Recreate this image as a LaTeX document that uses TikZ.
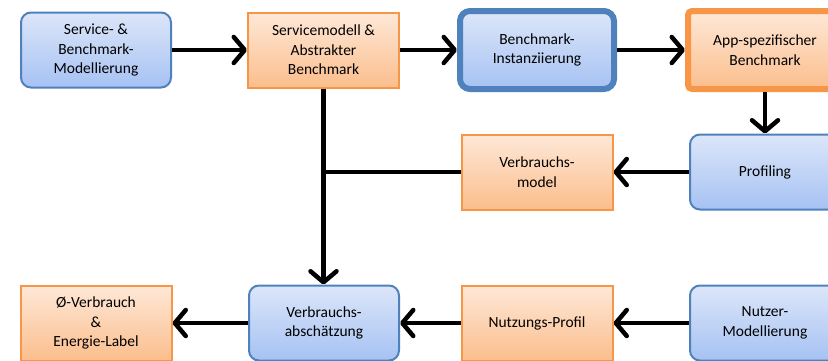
\documentclass[tikz,border=0pt]{standalone}
\usepackage{fontspec}
\setmainfont{Carlito}
\usetikzlibrary{positioning}
\usetikzlibrary{arrows.meta}
\definecolor{blueline}{HTML}{4F81BD}
\definecolor{bluetop}{HTML}{DCE6F9}
\definecolor{bluebot}{HTML}{A6C2F3}
\definecolor{orangeline}{HTML}{F79646}
\definecolor{orangetop}{HTML}{FEE8D8}
\definecolor{orangebot}{HTML}{FBBE8C}

\begin{document}
\begin{tikzpicture}[x=1pt, y=-1pt,
bluenode/.style={rectangle, rounded corners=10pt, draw=blueline, line width=2pt, top color=bluetop, bottom color=bluebot, minimum width=150pt, minimum height=75pt, align=center, font=\fontsize{15.5}{19.5}\selectfont},
orangenode/.style={rectangle, draw=orangeline, line width=2pt, top color=orangetop, bottom color=orangebot, minimum width=151pt, minimum height=75pt, align=center, font=\fontsize{15.5}{19.5}\selectfont},
boldnode/.style={line width=6pt, minimum width=154pt, minimum height=78pt},
flow/.style={line width=4.5pt, -{Straight Barb[round, length=11pt, width=26pt]}},
]
\useasboundingbox (0,0) rectangle (828,360);

%Nodes
\node[bluenode]             (model)   at (96,50)    {Service- \&\\Benchmark-\\Modellierung};
\node[orangenode]           (abstr)   at (323.5,50) {Servicemodell \&\\Abstrakter\\Benchmark};
\node[bluenode, boldnode]   (inst)    at (537,50)   {Benchmark-\\Instanziierung};
\node[orangenode, boldnode, rounded corners=4pt] (app) at (765,50) {App-spezifischer\\Benchmark};
\node[bluenode]             (prof)    at (765,172)  {Profiling};
\node[orangenode]           (vmodel)  at (537,172)  {Verbrauchs-\\model};
\node[orangenode]           (label)   at (96,323)   {Ø-Verbrauch\\\&\\Energie-Label};
\node[bluenode]             (est)     at (324,323)  {Verbrauchs-\\abschätzung};
\node[orangenode]           (usage)   at (537,323)  {Nutzungs-Profil};
\node[bluenode]             (user)    at (765,323)  {Nutzer-\\Modellierung};

%Lines
\draw[flow] (model) -- (abstr);
\draw[flow] (abstr) -- (inst);
\draw[flow] (inst) -- (app);
\draw[flow] (app) -- (prof);
\draw[flow] (prof) -- (vmodel);
\draw[line width=4.5pt] (vmodel.west) -- (abstr.south |- vmodel.west);
\draw[flow] (abstr.south) -- (abstr.south |- est.north);
\draw[flow] (user) -- (usage);
\draw[flow] (usage) -- (est);
\draw[flow] (est) -- (label);
\end{tikzpicture}
\end{document}
